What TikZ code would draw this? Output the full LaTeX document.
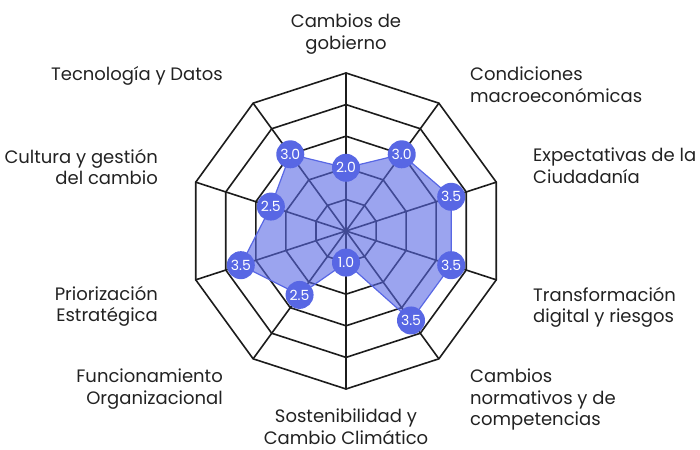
\documentclass[tikz,border=0pt]{standalone}
\usepackage{fontspec}
\setmainfont{Poppins}
\definecolor{radarblue}{RGB}{88,103,228}
\definecolor{gridgray}{RGB}{28,28,28}
\definecolor{txtgray}{RGB}{34,34,34}

\begin{document}
\begin{tikzpicture}[x=1pt,y=1pt,line join=round,line cap=round,
		font=\fontsize{18}{21.5}\selectfont,
		ring/.style={draw=gridgray,line width=1.6pt},
		lbl/.style={inner sep=0pt,text=txtgray},
		val/.style={circle,fill=radarblue,inner sep=0pt,minimum size=28pt,text=white,font=\fontsize{14}{14}\selectfont}]
	\useasboundingbox (0,0) rectangle (700,449);
	\begin{scope}[shift={(346,218)}]
		% rejilla
		\foreach \k in {1,...,5}
		\draw[ring] (90:31.6*\k) \foreach \i in {1,...,9}{ -- (90-36*\i:31.6*\k)} -- cycle;
		\foreach \i in {0,...,9}
		\draw[ring] (0,0) -- (90-36*\i:158);
		% datos
		\foreach \v [count=\i from 0] in {2.0,3.0,3.5,3.5,3.5,1.0,2.5,3.5,2.5,3.0}
		\coordinate (p\i) at (90-36*\i:31.6*\v);
		\filldraw[radarblue,line width=1.2pt,fill opacity=0.6] (p0) -- (p1) -- (p2) -- (p3) -- (p4) -- (p5) -- (p6) -- (p7) -- (p8) -- (p9) -- cycle;
		\foreach \v [count=\i from 0] in {2.0,3.0,3.5,3.5,3.5,1.0,2.5,3.5,2.5,3.0}
		\node[val] (m\i) at (p\i) {\v};
	\end{scope}
	% etiquetas
	\node[lbl,anchor=north,align=center] (cg) at (346,435) {Cambios de\\gobierno};
	\node[lbl,anchor=north west,align=left] (cm) at (470,382) {Condiciones\\macroeconómicas};
	\node[lbl,anchor=north west,align=left] (ec) at (533,301) {Expectativas de la\\Ciudadanía};
	\node[lbl,anchor=north west,align=left] (td) at (533,162) {Transformación\\digital y riesgos};
	\node[lbl,anchor=north west,align=left] (cn) at (470,80) {Cambios\\normativos y de\\competencias};
	\node[lbl,anchor=north,align=center] (sc) at (346,40) {Sostenibilidad y\\Cambio Climático};
	\node[lbl,anchor=north east,align=right] (fo) at (223,80) {Funcionamiento\\Organizacional};
	\node[lbl,anchor=north east,align=right] (pe) at (158,163) {Priorización\\Estratégica};
	\node[lbl,anchor=north east,align=right] (cc) at (158,300) {Cultura y gestión\\del cambio};
	\node[lbl,anchor=north east,align=right] (tc) at (223,383) {Tecnología y Datos};
\end{tikzpicture}
\end{document}
